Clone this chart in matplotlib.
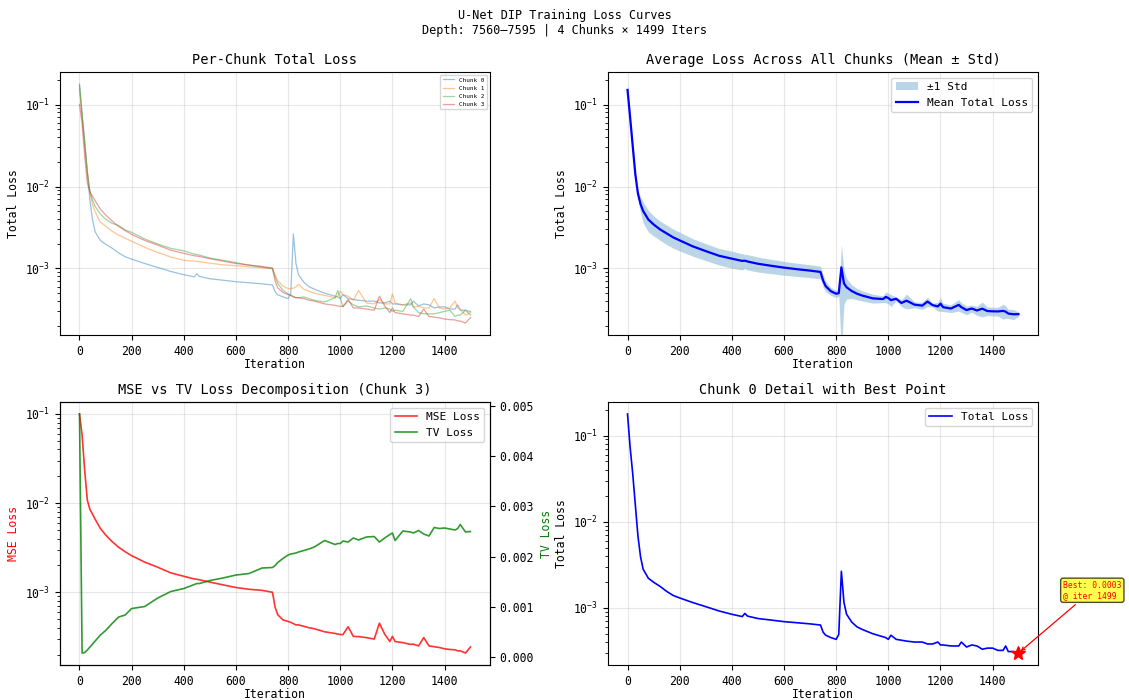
import matplotlib
matplotlib.use('Agg')
import matplotlib.pyplot as plt
import numpy as np

plt.rcParams['font.family'] = ['DejaVu Sans Mono']

# iterations
iters = [0, 10, 20, 30, 40, 50, 60, 80, 100, 125, 150, 175, 200, 250, 300, 350, 400,
         440, 450, 460, 500, 550, 600, 650, 700, 740, 750, 760, 780, 800, 810, 820,
         830, 840, 860, 880, 900, 940, 980, 990, 1000, 1010, 1030, 1050, 1070, 1100,
         1130, 1150, 1170, 1190, 1200, 1210, 1240, 1270, 1280, 1300, 1320, 1340, 1360,
         1380, 1400, 1420, 1440, 1450, 1460, 1480, 1499]

chunk0 = [0.178, 0.073, 0.036, 0.0156, 0.0068, 0.0039, 0.0028, 0.0022, 0.00198, 0.00177,
          0.00155, 0.00139, 0.0013, 0.00115, 0.00103, 0.00092, 0.00084, 0.00079, 0.00086,
          0.0008, 0.00075, 0.00072, 0.00069, 0.00067, 0.00065, 0.00063, 0.00052, 0.00048,
          0.00045, 0.00043, 0.00049, 0.00265, 0.00115, 0.00084, 0.00068, 0.0006, 0.00056,
          0.0005, 0.00046, 0.00045, 0.00043, 0.00048, 0.00043, 0.00042, 0.00041, 0.0004,
          0.0004, 0.00038, 0.00038, 0.0004, 0.00037, 0.00037, 0.00036, 0.00036, 0.0004,
          0.00035, 0.00037, 0.00036, 0.00033, 0.00034, 0.00034, 0.00032, 0.00032, 0.00036,
          0.00031, 0.00031, 0.000298]

chunk1 = [0.155, 0.071, 0.032, 0.0148, 0.0085, 0.006, 0.0049, 0.00366, 0.0033, 0.00285,
          0.00256, 0.00235, 0.00215, 0.00181, 0.00157, 0.00138, 0.00126, 0.00123, 0.00122,
          0.00121, 0.00116, 0.00111, 0.00108, 0.00105, 0.00102, 0.00099, 0.00084, 0.00071,
          0.00061, 0.00057, 0.00057, 0.000575, 0.0006, 0.00064, 0.00056, 0.00053, 0.0005,
          0.00047, 0.00044, 0.00046, 0.00053, 0.00048, 0.00046, 0.00041, 0.00054, 0.00038,
          0.00037, 0.00042, 0.00037, 0.00037, 0.00049, 0.00038, 0.00036, 0.00038, 0.00034,
          0.000345, 0.00033, 0.00033, 0.00043, 0.00033, 0.00032, 0.00033, 0.0004, 0.00033,
          0.00032, 0.00027, 0.00029]

chunk2 = [0.17, 0.076, 0.033, 0.0148, 0.0088, 0.0068, 0.0057, 0.00463, 0.004, 0.00355,
          0.00335, 0.00295, 0.00276, 0.00229, 0.00199, 0.00176, 0.00164, 0.0015, 0.00148,
          0.00146, 0.00134, 0.00126, 0.00118, 0.0011, 0.00104, 0.001, 0.00079, 0.00066,
          0.00054, 0.00049, 0.00047, 0.00045, 0.00044, 0.00044, 0.00045, 0.00043, 0.00041,
          0.00039, 0.00044, 0.00054, 0.00044, 0.00034, 0.0004, 0.00036, 0.00034, 0.00035,
          0.00033, 0.00032, 0.00033, 0.00032, 0.0003, 0.00031, 0.0003, 0.00043, 0.00034,
          0.00029, 0.00028, 0.00028, 0.00028, 0.00029, 0.0003, 0.00031, 0.00026, 0.00027,
          0.00027, 0.00031, 0.00027]

chunk3 = [0.1, 0.058, 0.023, 0.011, 0.0086, 0.0076, 0.0067, 0.0053, 0.0045, 0.0038,
          0.00325, 0.0029, 0.0026, 0.0022, 0.00193, 0.00167, 0.00153, 0.00143, 0.00142,
          0.0014, 0.00132, 0.00123, 0.00115, 0.0011, 0.00106, 0.00101, 0.0007, 0.00058,
          0.00051, 0.00048, 0.00047, 0.000455, 0.00044, 0.00044, 0.00043, 0.00041, 0.0004,
          0.00037, 0.000355, 0.00035, 0.000346, 0.000345, 0.00042, 0.00033, 0.00033,
          0.00032, 0.00031, 0.00046, 0.00035, 0.00029, 0.00033, 0.00029, 0.00028, 0.00027,
          0.00027, 0.00026, 0.00032, 0.00026, 0.000255, 0.00025, 0.000242, 0.000238,
          0.000236, 0.00023, 0.000228, 0.000216, 0.000252]

mse_loss = [0.1, 0.058, 0.023, 0.0108, 0.0085, 0.0075, 0.0066, 0.0052, 0.0044, 0.0037,
            0.0032, 0.00285, 0.00257, 0.00218, 0.00191, 0.00165, 0.00151, 0.00141, 0.0014,
            0.00138, 0.0013, 0.00121, 0.00113, 0.00108, 0.00105, 0.001, 0.00068, 0.00056,
            0.00049, 0.00047, 0.00046, 0.000445, 0.00043, 0.00043, 0.000415, 0.0004,
            0.00039, 0.00036, 0.000345, 0.00034, 0.000336, 0.000335, 0.00041, 0.00032,
            0.000318, 0.00031, 0.000298, 0.00045, 0.00034, 0.00028, 0.00032, 0.00028,
            0.000272, 0.00026, 0.000262, 0.00025, 0.00031, 0.00025, 0.000245, 0.00024,
            0.000232, 0.000228, 0.000226, 0.00022, 0.00022, 0.000208, 0.000243]

tv_loss = [0.00485, 0.00007, 0.00008, 0.00013, 0.00019, 0.00025, 0.00031, 0.00043, 0.00052,
           0.00066, 0.00079, 0.00083, 0.00096, 0.001, 0.00117, 0.0013, 0.00136, 0.00144,
           0.00146, 0.00146, 0.00152, 0.00157, 0.00163, 0.00166, 0.00177, 0.00178, 0.00182,
           0.00188, 0.00196, 0.00203, 0.00205, 0.00206, 0.00207, 0.00209, 0.00212, 0.00215,
           0.00219, 0.00232, 0.00224, 0.00226, 0.00226, 0.00231, 0.00229, 0.00237, 0.00233,
           0.00239, 0.0024, 0.00229, 0.00237, 0.00244, 0.00247, 0.00232, 0.00251, 0.00249,
           0.00247, 0.00252, 0.00245, 0.00241, 0.00258, 0.00256, 0.00257, 0.00255, 0.00253,
           0.00256, 0.00264, 0.00249, 0.0025]

chunk_names = ['Chunk 0', 'Chunk 1', 'Chunk 2', 'Chunk 3']

losses = np.array([chunk0, chunk1, chunk2, chunk3])
mean_loss = losses.mean(axis=0)
std_loss = losses.std(axis=0)

fig = plt.figure(figsize=(11.29, 7.0), dpi=100)
ax_1 = fig.add_axes([0.0531, 0.5214, 0.3809, 0.3757])
ax_2 = fig.add_axes([0.5385, 0.5214, 0.3809, 0.3757])
ax_3 = fig.add_axes([0.0531, 0.05, 0.3809, 0.3757])
ax_4 = fig.add_axes([0.5385, 0.05, 0.3809, 0.3757])

title_fs = 9.8
label_fs = 8.3

# Per chunk
for i, vals in enumerate(losses):
    ax_1.plot(iters, vals, color='C%d' % i, alpha=0.45, lw=0.9, label=chunk_names[i])
ax_1.set_yscale('log')
ax_1.set_title('Per-Chunk Total Loss', fontsize=title_fs)
ax_1.set_xlabel('Iteration', fontsize=label_fs, labelpad=0)
ax_1.set_ylabel('Total Loss', fontsize=label_fs)
ax_1.legend(fontsize=4.3, loc='upper right')
ax_1.grid(True, alpha=0.3)

# Mean +- std
ax_2.fill_between(iters, mean_loss - std_loss, mean_loss + std_loss, alpha=0.3,
                  color='C0', lw=0, label='±1 Std')
ax_2.plot(iters, mean_loss, color='blue', lw=1.6, label='Mean Total Loss')
ax_2.set_yscale('log')
ax_2.set_ylim(ax_1.get_ylim())
ax_2.set_title('Average Loss Across All Chunks (Mean ± Std)', fontsize=title_fs)
ax_2.set_xlabel('Iteration', fontsize=label_fs, labelpad=0)
ax_2.set_ylabel('Total Loss', fontsize=label_fs)
ax_2.legend(fontsize=8, loc='upper right')
ax_2.grid(True, alpha=0.3)

# MSE vs TV
l1, = ax_3.plot(iters, mse_loss, color='red', alpha=0.8, lw=1.2, label='MSE Loss')
ax_3.set_yscale('log')
ax_3.set_ylabel('MSE Loss', color='red', fontsize=label_fs)
ax_3.set_xlabel('Iteration', fontsize=label_fs, labelpad=0)
ax_3.set_title('MSE vs TV Loss Decomposition (Chunk 3)', fontsize=title_fs)
ax_3.grid(True, alpha=0.3)
ax_3b = ax_3.twinx()
l2, = ax_3b.plot(iters, tv_loss, color='green', alpha=0.8, lw=1.2, label='TV Loss')
ax_3b.set_ylabel('TV Loss', color='green', fontsize=label_fs)
ax_3b.tick_params(labelsize=label_fs)
ax_3.legend([l1, l2], ['MSE Loss', 'TV Loss'], fontsize=8, loc='upper right')

# Chunk 0 with best point
best_idx = int(np.argmin(chunk0))
best_iter = iters[best_idx]
best_val = chunk0[best_idx]
ax_4.plot(iters, chunk0, color='blue', lw=1.2, label='Total Loss')
ax_4.plot(best_iter, best_val, 'r*', markersize=10)
ax_4.set_yscale('log')
ax_4.annotate('Best: %.4f\n@ iter %d' % (best_val, best_iter),
              xy=(best_iter, best_val), xytext=(1670, 0.0013),
              fontsize=5.8, color='red',
              bbox=dict(boxstyle='round,pad=0.3', facecolor='yellow', alpha=0.7),
              arrowprops=dict(arrowstyle='->', color='red', lw=0.9))
ax_4.set_title('Chunk 0 Detail with Best Point', fontsize=title_fs)
ax_4.set_xlabel('Iteration', fontsize=label_fs, labelpad=0)
ax_4.set_ylabel('Total Loss', fontsize=label_fs)
ax_4.legend(fontsize=8, loc='upper right')
ax_4.grid(True, alpha=0.3)

for ax in [ax_1, ax_2, ax_3, ax_4]:
    ax.tick_params(labelsize=label_fs)

fig.suptitle('U-Net DIP Training Loss Curves\nDepth: 7560–7595 | 4 Chunks × 1499 Iters',
             fontsize=8.5, y=0.987)

fig.savefig('out.png', dpi=100)
